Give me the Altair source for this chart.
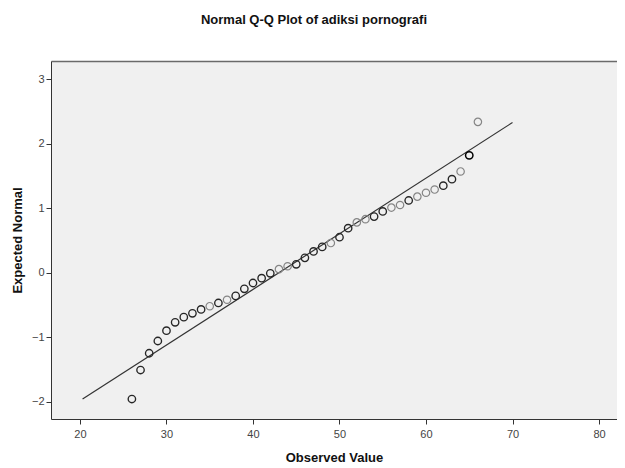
import altair as alt
import pandas as pd

# Observed values (x) and expected normal quantiles (y)
observed = list(range(26, 67))
expected = [-1.96, -1.51, -1.25, -1.06, -0.90, -0.77, -0.69, -0.63, -0.57, -0.52,
            -0.47, -0.42, -0.36, -0.25, -0.16, -0.085, -0.01, 0.055, 0.10, 0.13,
            0.23, 0.33, 0.40, 0.46, 0.55, 0.69, 0.78, 0.83, 0.87, 0.95,
            1.01, 1.05, 1.12, 1.18, 1.24, 1.29, 1.35, 1.45, 1.57, 1.82, 2.34]
# number of cases at each point (tied cases overlap -> darker circle)
cases = [2, 2, 2, 2, 2, 2, 2, 2, 2, 1,
         2, 1, 2, 2, 2, 2, 2, 1, 1, 2,
         2, 2, 2, 1, 2, 2, 1, 1, 2, 2,
         1, 1, 2, 1, 1, 1, 2, 2, 1, 3, 1]

# reference line endpoints
line_x = [20.3, 70.0]
line_y = [-1.96, 2.33]

x_ticks = [20, 30, 40, 50, 60, 70, 80]
y_ticks = [-2, -1, 0, 1, 2, 3]

pts = pd.DataFrame({"obs": observed, "exp": expected, "n": cases})
ln = pd.DataFrame({"obs": line_x, "exp": line_y})

FONT = "Liberation Sans"

xscale = alt.Scale(domain=[16.65, 82.08], nice=False, zero=False)
yscale = alt.Scale(domain=[-2.27, 3.284], nice=False, zero=False)

xaxis = alt.Axis(values=x_ticks, title="Observed Value", grid=False, format="d",
                 orient="bottom",
                 tickSize=5, tickColor="#333333", domainColor="#333333",
                 labelColor="#444444", labelFontSize=11, labelFont=FONT,
                 labelPadding=4, titleFont=FONT, titleFontSize=13,
                 titleFontWeight="bold", titleColor="#111111", titlePadding=12)
xaxis_top = alt.Axis(orient="top", labels=False, ticks=False, grid=False, title=None,
                     domainColor="#6a6a6a", domainWidth=1.5)
yaxis = alt.Axis(values=y_ticks, title="Expected Normal", grid=False, format="d",
                 tickSize=5, tickColor="#333333", domainColor="#333333",
                 labelColor="#444444", labelFontSize=11, labelFont=FONT,
                 labelPadding=2, titleFont=FONT, titleFontSize=13,
                 titleFontWeight="bold", titleColor="#111111", titlePadding=7)

line = alt.Chart(ln).mark_line(color="#333333", strokeWidth=1.2).encode(
    x=alt.X("obs:Q", scale=xscale, axis=xaxis),
    y=alt.Y("exp:Q", scale=yscale, axis=yaxis),
)

points = alt.Chart(pts).mark_point(shape="circle", filled=False, size=55, opacity=1).encode(
    x=alt.X("obs:Q", scale=xscale, axis=xaxis_top),
    y=alt.Y("exp:Q", scale=yscale),
    stroke=alt.Stroke("n:O", scale=alt.Scale(domain=[1, 2, 3], range=["#858585", "#262626", "#000000"]), legend=None),
    strokeWidth=alt.StrokeWidth("n:O", scale=alt.Scale(domain=[1, 2, 3], range=[1.2, 1.5, 2.0]), legend=None),
)

chart = alt.layer(line, points).resolve_axis(x="independent").properties(
    width=566,
    height=358,
    title=alt.TitleParams("Normal Q-Q Plot of adiksi pornografi", font=FONT, fontSize=13,
                          fontWeight="bold", color="#111111", anchor="middle",
                          frame="group", dx=-20, offset=34),
    autosize=alt.AutoSizeParams(type="none"),
    padding={"left": 43, "top": 53, "right": 0, "bottom": 45},
    background="white",
).configure_view(fill="#f0f0f0", strokeOpacity=0)

chart.save("out.html", embed_options={"renderer": "svg", "actions": False})
